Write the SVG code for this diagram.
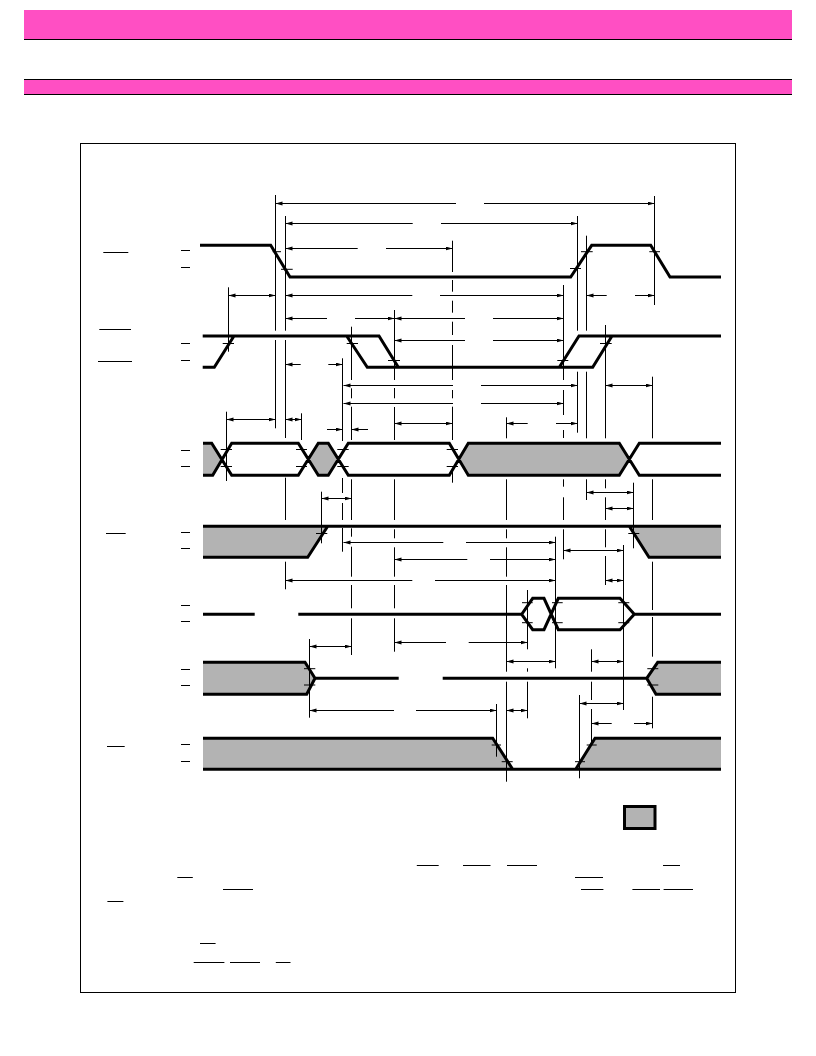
<svg xmlns="http://www.w3.org/2000/svg" width="816" height="1056" viewBox="0 0 816 1056">
<style>
.w{fill:none;stroke:#000;stroke-width:3}
.g{fill:#b3b3b3;stroke:none}
.t{fill:none;stroke:#000;stroke-width:1}
.v{fill:none;stroke:#000;stroke-width:1}
.a{stroke:#000;stroke-width:1;fill:none}
.s{marker-start:url(#h)}
.e{marker-end:url(#h)}
.b{marker-start:url(#h);marker-end:url(#h)}
</style>
<defs>
<marker id="h" markerUnits="userSpaceOnUse" markerWidth="8" markerHeight="5" refX="7" refY="2" orient="auto-start-reverse"><path d="M0 0L7 2L0 4z" fill="#000"/></marker>
</defs>
<rect width="816" height="1056" fill="#fff"/>
<g id="header-top"><rect x="24" y="10" width="768" height="29" fill="#ff4fc3"/><path d="M24 39.5H792" stroke="#000" stroke-width="1"/></g>
<g id="header-section"><rect x="24" y="80" width="768" height="14" fill="#ff4fc3"/><path d="M24 79.5H792M24 94.5H792" stroke="#000" stroke-width="1"/></g>
<rect id="frame" x="80.5" y="143.5" width="655" height="849" fill="none" stroke="#000" stroke-width="1"/>

<g id="wave-1">
<path class="w" d="M200 245.3H270.7L290 277H570.7L591.700 245.3H650.700L670 277H721"/>
<path class="t" d="M181 250.500H190M181 267.500H190M103.3 252.500H128.3M272.7 251.700H281M281 269.300H292.700M570 268.500H581M581 251.700H592.700M649.3 251.700H660"/>
</g>
<g id="wave-2">
<path class="w" d="M202.7 336H379L398.3 367.3M346.7 336L367.3 367.3H592.700L612 336M202.7 367.3H214.3L234 336M559.3 367.3L579 336H721"/>
<path class="t" d="M181 343.500H190M181 360.500H190M99.3 329.500H131M98 361.500H132M222.7 343.500H234M346.7 343.500H358M388 360.500H400M557.3 360.500H568.3M600 343.500H611.700"/>
</g>
<g id="wave-3">
<path class="g" d="M203 443.3H211.7L221.7 459.3L212.7 475.3H203zM308.3 459.3L318.3 443.3H328.3L338.3 459.3L328.3 475.3H318.3zM458.8 459.3L468.3 443.3H619.3L629.3 459.3L619.3 475.3H468.3z"/>
<path class="w" d="M203 443.3H211.7L231.7 475.3H298.3L318.3 443.3H328.3L348.3 475.3H449.3L468.3 443.3H619.3L639.3 475.3H721M203 475.3H212.7L231.7 443.3H298.3L318.3 475.3H328.3L348.3 443.3H449.3L468.3 475.3H619.3L639.3 443.3H721"/>
<path class="t" d="M181 450.500H190M181 466.500H190M220.7 449.500H232M220.7 466.500H232M296 449.500H307M296 466.500H307M337.3 449.500H348.7M337.3 466.500H348.7M446.7 449.500H458M446.7 466.500H458"/>
</g>
<g id="wave-4">
<path class="g" d="M203 526.3H327.7L307.7 557.3H203zM629.3 526.3H721V557.3H649z"/>
<path class="w" d="M203 526.3H721M629.3 526.3L649 557.3H721M203 557.3H307.7L327.7 526.3"/>
<path class="t" d="M181 532.500H190M181 548.500H190M106 533.500H125.7M316 533.500H327.3M628.3 533.500H639.3"/>
</g>
<g id="wave-5">
<path class="w" d="M203 614.3H254.7M298.3 614.3H521.7L532.7 598.3H544L558.3 629.7H620L634.3 614.3H721M521.7 614.3L532.7 629.7H544L558.3 598.3H620L634.3 614.3"/>
<path class="t" d="M181 605.500H190M181 621.500H190M522 602.700H532.7M522 622.700H532.7M552 602.700H562.7M552 622.700H562.7M618.3 602.700H629.3M618.3 622.700H629.3"/>
</g>
<g id="wave-6">
<path class="g" d="M203 662.3H305L315 678.3L306.7 694.3H203zM721 662.3H657.7L646.7 678.3L656 694.3H721z"/>
<path class="w" d="M203 662.3H305L315 678.3L306.7 694.3H203M315 678.3H398.7M442.7 678.3H646.7M721 662.3H657.7L646.7 678.3L656 694.3H721"/>
<path class="t" d="M181 669.500H190M181 685.500H190M304 668.700H315.3M304 685H315.3M647.3 668.700H658.3M647.3 685H658.3"/>
</g>
<g id="wave-7">
<path class="g" d="M203 738.3H492.7L512.7 769.3H203zM595 738.3H721V769.3H575.7z"/>
<path class="w" d="M203 738.3H492.7L512.7 769.3M203 769.3H721M575.7 769.3L595 738.3H721"/>
<path class="t" d="M181 744.500H190M181 761.500H190M107 746.500H124.7M491.7 745H501M501.7 761.700H512.7M575 761.700H585M586.7 745H596.7"/>
</g>
<g id="legend"><rect x="624.5" y="806.5" width="30.500" height="22" fill="#b3b3b3" stroke="#000" stroke-width="3"/></g>
<g id="notes-overbars">
<path class="t" d="M416.800 865.500H438.700M463 865.500H490.500M507 865.500H537M663 865.500H680M177.300 877.500H192.800M575 877.500H603M223 889.500H253M581 889.500H603.400M632.400 889.500H660M663.600 889.500H693M107.400 901.500H123.400M200 943.500H215.600M193.700 962.500H224.400M230 962.500H260M275.800 962.500H290.500"/>
</g>
<g id="connectors">
<path class="v" d="M275.500 195V330.700M275.500 340V428.300
M285.500 216V330.700M285.500 340V438M285.500 477.700V520M285.500 561.700V589.300
M228.500 287.300V351.700
M226.500 411.700V481
M301.500 413.300V440
M342.500 358.300V441M342.500 478V493M342.500 503V520M342.500 528V551.700
M351.500 326.700V380M351.500 388.300V398.300M351.500 406.700V440M351.500 479.300V520M351.500 528.300V536.700M351.500 546.700V576.700M351.500 585V608.300M351.500 618.300V655
M394.500 310V380M394.500 388V398.300M394.500 407V440M394.500 479.300V520M394.500 529.300V538.300M394.500 547.300V576.700M394.500 585V608.300M394.500 618.300V651.700
M452.500 240.700V272M452.500 280V291.700M452.500 300.700V312.700M452.500 321.700V335M452.500 345V380M452.500 390V398.300M452.500 406.700V440M452.500 470V482.700
M506.500 417.300V438.300M506.500 479.300V520M506.500 529.300V538.300M506.500 547.300V576.700M506.500 585V671.700M506.500 681.700V781.700
M527.500 590V649.300M527.500 668.300V671.700M527.500 681.700V718.300
M555.500 536.700V668.300
M563.500 285V380M563.500 390V415M563.500 430V438M563.500 479.300V486.700M563.500 497.300V520M563.500 529.300V559.300
M577.500 216V330.700M577.500 371.700V432.700
M586.500 235.700V330.700M586.500 371.700V438.300M586.500 479.300V500
M591.500 649.300V671.700M591.500 681.700V700M591.500 709V743
M579.500 695V778.300
M496.500 704V756.700
M605.500 325V438.300M605.500 479.300V488.300M605.500 497.300V520M605.500 529.300V547.300M605.500 556V585
M623.500 545V710
M633.500 482.700V548.300
M652.500 376.700V438.300M652.500 479.300V520M652.500 561.700V610M652.500 617V656.700M652.500 696.700V728.300
M654.500 196V305
M321.500 491.700V543.300
M309.500 639V717.700"/>
<path class="a s" d="M275.500 203.500H456"/><path class="a e" d="M484 203.500H654.500"/>
<path class="a s" d="M285.500 223.500H412.700"/><path class="a e" d="M441 223.500H577.500"/>
<path class="a s" d="M285.500 248.500H357.700"/><path class="a e" d="M386 248.500H452.500"/>
<path class="a b" d="M228.500 295.500H275.500"/>
<path class="a s" d="M285.500 295.500H412.300"/><path class="a e" d="M440 295.500H563.500"/>
<path class="a s" d="M586.500 295.500H606.700"/><path class="a e" d="M635 295.500H654.500"/>
<path class="a s" d="M285.500 318.500H327"/><path class="a e" d="M355 318.500H394.500"/>
<path class="a s" d="M394.500 318.500H465"/><path class="a e" d="M493 318.500H563.500"/>
<path class="a s" d="M394.500 340.500H465"/><path class="a e" d="M493 340.500H563.500"/>
<path class="a s" d="M285.500 364.500H300.700"/><path class="a e" d="M328.300 364.500H342.500"/>
<path class="a s" d="M343.500 385.500H453"/><path class="a e" d="M481 385.500H577.500"/>
<path class="a s" d="M343.500 403.500H453"/><path class="a e" d="M481 403.500H563.500"/>
<path class="a b" d="M605.500 385.500H652.500"/>
<path class="a b" d="M226.500 419.500H275.500"/>
<path class="a b" d="M285.500 419.500H301.500"/>
<path class="a e" d="M327 429.500H342.500"/><path class="a s" d="M351.500 429.500H368"/>
<path class="a b" d="M394.500 423.500H452.500"/>
<path class="a s" d="M506.500 423.500H527.700"/><path class="a e" d="M556 423.500H577.500"/>
<path class="a b" d="M321.500 498.500H351.500"/>
<path class="a b" d="M586.500 492.500H633.500"/>
<path class="a b" d="M605.500 508.500H633.500"/>
<path class="a s" d="M343.500 542.500H443.300"/><path class="a e" d="M466 542.500H555.500"/>
<path class="a s" d="M394.500 559.500H467.300"/><path class="a e" d="M490 559.500H555.500"/>
<path class="a s" d="M285.500 580.500H412.300"/><path class="a e" d="M435 580.500H555.500"/>
<path class="a b" d="M563.500 550.500H623.500"/>
<path class="a b" d="M605.500 580.500H623.500"/>
<path class="a b" d="M309.500 646.500H351.500"/>
<path class="a s" d="M394.500 642.500H446"/><path class="a e" d="M468.700 642.500H527.500"/>
<path class="a b" d="M506.500 661.500H555.500"/>
<path class="a b" d="M591.500 661.500H623.500"/>
<path class="a s" d="M309.500 710.500H394"/><path class="a e" d="M416 710.500H496.500"/>
<path class="a b" d="M506.500 710.500H527.500"/>
<path class="a b" d="M579.500 703.500H623.500"/>
<path class="a s" d="M591.500 723.500H611.700"/><path class="a e" d="M634 723.500H652.500"/>
</g>
</svg>
